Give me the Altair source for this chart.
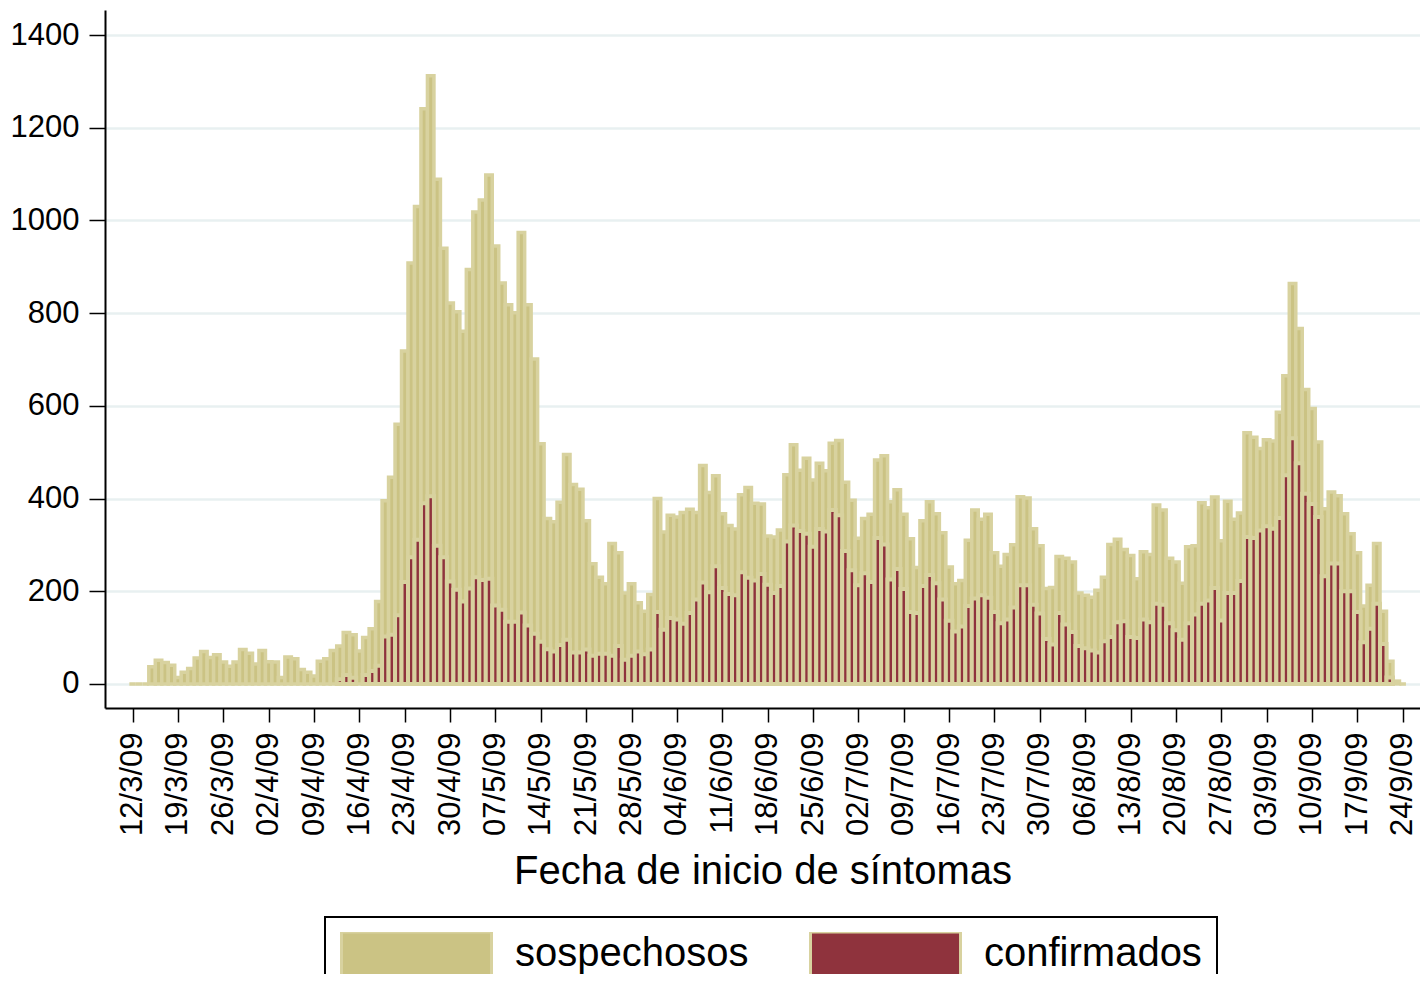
import altair as alt
import pandas as pd

FONT = "Liberation Sans, Arial, sans-serif"
TAN = "#cbc384"
TAN_EDGE = "#d8d29f"
RED = "#8f333d"

tick_labels = ["12/3/09", "19/3/09", "26/3/09", "02/4/09", "09/4/09", "16/4/09",
               "23/4/09", "30/4/09", "07/5/09", "14/5/09", "21/5/09", "28/5/09",
               "04/6/09", "11/6/09", "18/6/09", "25/6/09", "02/7/09", "09/7/09",
               "16/7/09", "23/7/09", "30/7/09", "06/8/09", "13/8/09", "20/8/09",
               "27/8/09", "03/9/09", "10/9/09", "17/9/09", "24/9/09"]
tick_days = [7 * i for i in range(len(tick_labels))]

y_ticks = [0, 200, 400, 600, 800, 1000, 1200, 1400]

series_names = ["sospechosos", "confirmados"]

sospechosos = [
    0, 0, 0, 37, 51, 46, 40, 14, 25, 33,
    56, 70, 57, 63, 47, 38, 47, 74, 66, 43,
    72, 48, 47, 14, 58, 54, 31, 25, 17, 49,
    54, 72, 82, 111, 106, 71, 100, 119, 178, 395,
    446, 560, 718, 908, 1030, 1241, 1312, 1089, 940, 822,
    803, 761, 894, 1018, 1044, 1098, 945, 865, 818, 801,
    974, 818, 701, 518, 357, 350, 392, 495, 430, 420,
    352, 259, 230, 216, 303, 283, 196, 216, 175, 157,
    193, 400, 328, 364, 360, 370, 377, 370, 471, 413,
    449, 367, 342, 334, 408, 424, 390, 388, 319, 317,
    332, 451, 516, 461, 487, 440, 476, 460, 519, 525,
    435, 396, 314, 357, 366, 483, 492, 393, 419, 366,
    313, 251, 352, 393, 367, 326, 252, 216, 223, 310,
    375, 355, 366, 283, 254, 279, 300, 404, 401, 335,
    298, 206, 208, 275, 271, 263, 196, 191, 187, 202,
    230, 301, 312, 290, 277, 227, 285, 279, 386, 375,
    271, 263, 217, 296, 298, 391, 380, 403, 309, 394,
    355, 369, 542, 532, 508, 527, 524, 586, 665, 864,
    767, 635, 594, 522, 378, 414, 406, 367, 324, 283,
    168, 213, 303, 157, 49, 6, 0,
]

confirmados = [
    0, 0, 0, 0, 0, 0, 0, 0, 0, 0,
    0, 0, 0, 0, 0, 0, 0, 0, 0, 0,
    0, 0, 0, 0, 0, 0, 0, 0, 0, 0,
    0, 0, 10, 19, 13, 0, 19, 28, 39, 102,
    106, 148, 220, 273, 311, 390, 405, 298, 273, 221,
    203, 178, 206, 230, 224, 227, 169, 160, 134, 134,
    154, 126, 108, 91, 75, 70, 84, 95, 68, 68,
    74, 61, 65, 65, 61, 82, 52, 61, 70, 64,
    74, 155, 117, 142, 139, 130, 153, 182, 219, 198,
    254, 207, 194, 191, 241, 229, 223, 237, 214, 196,
    211, 307, 342, 330, 324, 296, 334, 329, 375, 364,
    287, 245, 213, 239, 220, 315, 301, 225, 248, 205,
    155, 153, 211, 235, 217, 182, 136, 113, 124, 168,
    184, 191, 186, 155, 131, 139, 165, 213, 213, 171,
    152, 97, 85, 153, 128, 112, 82, 77, 72, 68,
    92, 101, 133, 135, 101, 99, 139, 133, 173, 171,
    131, 116, 95, 131, 150, 173, 180, 207, 137, 196,
    196, 222, 317, 315, 331, 340, 335, 358, 450, 530,
    476, 410, 388, 360, 232, 260, 260, 200, 200, 155,
    90, 119, 173, 86, 14, 0, 0,
]

n = len(sospechosos)
days = list(range(n))
df = pd.DataFrame({
    "day": days + days,
    "serie": [series_names[0]] * n + [series_names[1]] * n,
    "valor": sospechosos + confirmados,
})

label_js = "[" + ",".join("'" + s + "'" for s in tick_labels) + "]"

x_enc = alt.X(
    "x0:Q",
    scale=alt.Scale(domain=[-4.26, 198.67], nice=False, zero=False),
    axis=alt.Axis(
        values=tick_days,
        labelExpr=label_js + "[round(datum.value / 7)]",
        labelAngle=270,
        labelFont=FONT, labelFontSize=31, labelColor="black",
        labelPadding=10, labelFlush=False, labelOverlap=False,
        tickSize=14, tickColor="black", tickWidth=1.5,
        domainColor="black", domainWidth=2,
        grid=False,
        title="Fecha de inicio de síntomas",
        titleFont=FONT, titleFontSize=40, titleFontWeight="normal",
        titleColor="black", titlePadding=16,
    ),
)
y_enc = alt.Y(
    "valor:Q",
    scale=alt.Scale(domain=[-52, 1454], nice=False, zero=False),
    axis=alt.Axis(
        values=y_ticks, format="d",
        labelFont=FONT, labelFontSize=31, labelColor="black",
        labelPadding=10,
        tickSize=16, tickColor="black", tickWidth=1.5,
        domainColor="black", domainWidth=2,
        grid=True, gridColor="#e8f0f1", gridWidth=2.5,
    ),
    title=None,
)
color_enc = alt.Color(
    "serie:N",
    scale=alt.Scale(domain=series_names, range=[TAN, RED]),
    legend=alt.Legend(
        title=None, orient="none", legendX=220, legendY=907,
        direction="horizontal", columns=2,
        symbolType="M-1,-0.293H1V0.293H-1Z", symbolSize=22500,
        symbolStrokeColor=TAN_EDGE, symbolStrokeWidth=3, symbolOpacity=1,
        clipHeight=44,
        labelFont=FONT, labelFontSize=40, labelColor="black",
        labelOffset=22, labelLimit=500,
        columnPadding=60, padding=15,
        strokeColor="black",
    ),
)

base = alt.Chart(df).transform_calculate(
    x0="datum.day - 0.5", x1="datum.day + 0.5"
)

tan_bars = base.transform_filter(
    "datum.serie == 'sospechosos'"
).mark_bar(stroke=TAN_EDGE, strokeWidth=3.5, opacity=1).encode(
    x=x_enc, x2="x1:Q", y=y_enc, y2=alt.datum(0), color=color_enc
)

red_bars = base.transform_filter(
    "datum.serie == 'confirmados' && datum.valor > 0"
).mark_bar(stroke=TAN_EDGE, strokeWidth=4, opacity=1).encode(
    x=x_enc, x2="x1:Q", y=y_enc, y2=alt.datum(0), color=color_enc
)

chart = alt.layer(tan_bars, red_bars).properties(
    width=1315,
    height=698,
    autosize=alt.AutoSizeParams(type="none"),
    padding={"left": 97, "top": 2, "right": 0, "bottom": 266},
).configure_view(strokeWidth=0).configure_legend(strokeWidth=2)

chart.save("out.html", embed_options={"renderer": "svg", "actions": False})
